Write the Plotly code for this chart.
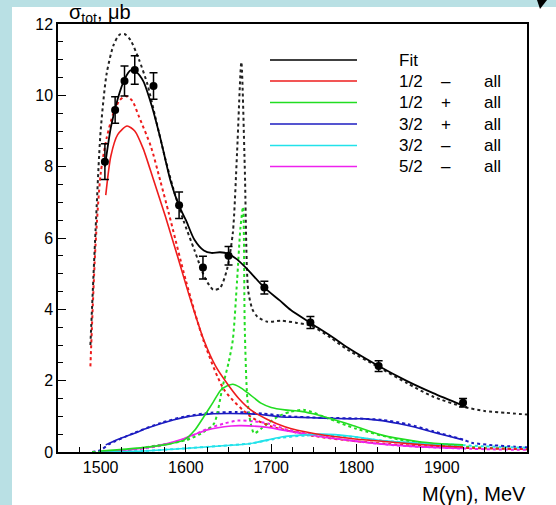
import plotly.graph_objects as go

# ---- data points ----
data_x = [1505, 1517, 1528, 1540, 1562, 1592, 1620, 1650, 1692, 1746, 1826, 1925]
data_y = [8.14, 9.59, 10.40, 10.71, 10.26, 6.92, 5.17, 5.50, 4.61, 3.63, 2.41, 1.38]
data_err = [0.5, 0.37, 0.42, 0.40, 0.37, 0.37, 0.32, 0.26, 0.18, 0.17, 0.15, 0.12]

# ---- Fit (solid black) ----
fit_x = [1505, 1512, 1520, 1528, 1535, 1542, 1550, 1560, 1570, 1582, 1592, 1600, 1610, 1621,
         1630, 1640, 1650, 1660, 1673, 1692, 1710, 1723, 1746, 1770, 1790, 1826, 1860, 1890, 1925]
fit_y = [8.0, 9.1, 9.9, 10.45, 10.7, 10.65, 10.4, 9.7, 8.8, 7.6, 6.9, 6.5, 5.95, 5.65,
         5.58, 5.6, 5.55, 5.4, 5.1, 4.61, 4.25, 3.98, 3.62, 3.25, 2.92, 2.41, 1.98, 1.65, 1.3]

# ---- alternative total (dotted black) ----
tot2_x = [1488, 1494, 1500, 1507, 1515, 1522, 1528, 1535, 1545, 1555, 1565, 1575, 1585, 1597,
          1610, 1622, 1632, 1640, 1648, 1655, 1660, 1665, 1669, 1673, 1678, 1684, 1696, 1712,
          1730, 1746, 1770, 1790, 1826, 1860, 1890, 1925, 1950, 1975, 2000]
tot2_y = [3.0, 6.2, 9.0, 10.6, 11.4, 11.7, 11.72, 11.55, 11.0, 10.3, 9.3, 8.3, 7.4, 6.5,
          5.66, 4.9, 4.55, 4.6, 5.1, 6.14, 8.4, 10.93, 8.0, 4.54, 4.0, 3.79, 3.65, 3.68,
          3.62, 3.55, 3.2, 2.86, 2.38, 1.92, 1.55, 1.27, 1.15, 1.1, 1.05]

# ---- partial waves, solid ----
red_x = [1506, 1512, 1520, 1531, 1540, 1550, 1562, 1576, 1590, 1605, 1621, 1635, 1649, 1662,
         1676, 1695, 1716, 1750, 1794, 1830, 1868, 1900, 1925]
red_y = [7.2, 8.3, 8.9, 9.14, 9.0, 8.5, 7.63, 6.6, 5.5, 4.3, 3.14, 2.4, 1.9, 1.5,
         1.18, 0.92, 0.71, 0.52, 0.38, 0.3, 0.22, 0.17, 0.14]

green_x = [1500, 1530, 1560, 1580, 1598, 1610, 1621, 1632, 1641, 1648, 1655, 1663, 1673, 1688,
           1700, 1716, 1735, 1755, 1775, 1794, 1829, 1870, 1900, 1925]
green_y = [0.03, 0.08, 0.15, 0.22, 0.34, 0.6, 0.99, 1.4, 1.74, 1.85, 1.9, 1.82, 1.65, 1.37,
           1.25, 1.18, 1.14, 1.04, 0.9, 0.76, 0.48, 0.3, 0.23, 0.2]

blue_x = [1506, 1520, 1539, 1555, 1571, 1585, 1598, 1614, 1629, 1650, 1676, 1700, 1712, 1735,
          1760, 1794, 1810, 1830, 1849, 1868, 1888, 1905, 1925]
blue_y = [0.2, 0.35, 0.52, 0.67, 0.8, 0.9, 0.97, 1.03, 1.07, 1.08, 1.07, 1.02, 0.98, 0.97,
          0.95, 0.93, 0.93, 0.88, 0.8, 0.7, 0.57, 0.46, 0.34]

cyan_x = [1500, 1550, 1598, 1640, 1676, 1712, 1740, 1760, 1794, 1829, 1870, 1925]
cyan_y = [0.0, 0.03, 0.1, 0.17, 0.24, 0.42, 0.48, 0.5, 0.44, 0.32, 0.25, 0.2]

mag_x = [1500, 1540, 1571, 1598, 1625, 1653, 1665, 1696, 1712, 1735, 1760, 1794, 1830, 1870, 1925]
mag_y = [0.0, 0.08, 0.2, 0.38, 0.62, 0.73, 0.74, 0.69, 0.62, 0.52, 0.42, 0.32, 0.22, 0.15, 0.1]

# ---- partial waves, dotted ----
redd_x = [1488, 1494, 1500, 1507, 1515, 1522, 1529, 1537, 1545, 1559, 1570, 1580, 1600, 1621,
          1645, 1676, 1700, 1750, 1800, 1850, 1900, 1950, 2000]
redd_y = [2.4, 5.8, 7.8, 8.8, 9.5, 9.85, 9.98, 9.85, 9.4, 8.56, 7.6, 6.69, 4.8, 3.1,
          1.74, 0.99, 0.72, 0.45, 0.3, 0.2, 0.14, 0.1, 0.08]

greend_x = [1490, 1530, 1570, 1600, 1620, 1633, 1643, 1650, 1655, 1660, 1664, 1667, 1669, 1672,
            1676, 1680, 1688, 1696, 1710, 1723, 1739, 1767, 1800, 1850, 1900, 1950, 2000]
greend_y = [0.0, 0.05, 0.2, 0.33, 0.55, 0.8, 1.83, 2.5, 3.14, 4.8, 6.3, 6.87, 3.5, 1.5,
            0.8, 0.52, 0.65, 0.8, 1.02, 1.13, 1.18, 0.94, 0.65, 0.35, 0.2, 0.12, 0.08]

blued_x = [1490, 1500, 1510, 1539, 1571, 1598, 1629, 1660, 1690, 1720, 1760, 1800, 1830, 1860,
           1890, 1910, 1925, 1935, 1960, 1986, 2000]
blued_y = [0.0, 0.05, 0.22, 0.53, 0.82, 0.99, 1.1, 1.12, 1.08, 1.0, 0.96, 0.94, 0.9, 0.78,
           0.58, 0.45, 0.35, 0.26, 0.19, 0.15, 0.13]

cyand_x = [1490, 1550, 1598, 1640, 1676, 1712, 1740, 1760, 1794, 1829, 1870, 1925, 1950, 2000]
cyand_y = [0.0, 0.03, 0.1, 0.17, 0.24, 0.4, 0.46, 0.48, 0.43, 0.32, 0.25, 0.19, 0.16, 0.12]

magd_x = [1490, 1540, 1571, 1598, 1625, 1645, 1661, 1680, 1696, 1720, 1760, 1800, 1850, 1900, 1950, 2000]
magd_y = [0.0, 0.07, 0.18, 0.36, 0.65, 0.8, 0.88, 0.86, 0.8, 0.62, 0.44, 0.3, 0.18, 0.12, 0.08, 0.06]

# ---- legend ----
legend_spin = ["1/2", "1/2", "3/2", "3/2", "5/2"]
legend_parity = ["\u2013", "+", "+", "\u2013", "\u2013"]
legend_set = ["all", "all", "all", "all", "all"]

x_ticks = [1500, 1600, 1700, 1800, 1900]
y_ticks = [0, 2, 4, 6, 8, 10, 12]

BLACK = "#000000"
RED = "#ee1c1c"
GREEN = "#22dd22"
BLUE = "#1c1cc0"
CYAN = "#22e2ea"
MAG = "#ee22ee"

W, H = 556, 505
L, R, T, B = 58, 29, 24, 53
PW, PH = W - L - R, H - T - B


def px2x(px):
    return (px - L) / PW


def px2y(py):
    return (H - B - py) / PH


fig = go.Figure()


def add_line(xs, ys, color, dotted=False, width=1.6):
    fig.add_trace(go.Scatter(
        x=xs, y=ys, mode="lines",
        line=dict(color=color, width=2 if dotted else width,
                  dash="dot" if dotted else "solid", shape="spline", smoothing=0.7),
        showlegend=False, hoverinfo="skip"))


# dotted curves
add_line(magd_x, magd_y, MAG, True)
add_line(cyand_x, cyand_y, CYAN, True)
add_line(blued_x, blued_y, BLUE, True)
add_line(greend_x, greend_y, GREEN, True)
add_line(redd_x, redd_y, RED, True)
add_line(tot2_x, tot2_y, "#222222", True)
# solid curves
add_line(mag_x, mag_y, MAG)
add_line(cyan_x, cyan_y, CYAN)
add_line(blue_x, blue_y, BLUE)
add_line(green_x, green_y, GREEN)
add_line(red_x, red_y, RED)
add_line(fit_x, fit_y, BLACK, width=1.8)

# data
fig.add_trace(go.Scatter(
    x=data_x, y=data_y, mode="markers",
    marker=dict(color="black", size=8),
    error_y=dict(type="data", array=data_err, visible=True, color="black",
                 thickness=1.5, width=4),
    showlegend=False, hoverinfo="skip"))

shapes = []
# white panel
shapes.append(dict(type="rect", xref="paper", yref="paper",
                   x0=px2x(12), x1=px2x(W + 10), y0=px2y(H + 10), y1=px2y(7),
                   fillcolor="white", line=dict(width=0), layer="below"))
# little black triangle at top right
tri = [(537, 0), (547, 0), (540, 9)]
path = "M {} {} L {} {} L {} {} Z".format(
    px2x(tri[0][0]), px2y(tri[0][1]), px2x(tri[1][0]), px2y(tri[1][1]),
    px2x(tri[2][0]), px2y(tri[2][1]))
shapes.append(dict(type="path", xref="paper", yref="paper", path=path,
                   fillcolor="black", line=dict(width=0), layer="above"))

annotations = []
leg_colors = [BLACK, RED, GREEN, BLUE, CYAN, MAG]
leg_rows = [60, 81, 102.5, 124, 145.5, 166.5]
for i, (c, ry) in enumerate(zip(leg_colors, leg_rows)):
    shapes.append(dict(type="line", xref="paper", yref="paper",
                       x0=px2x(270), x1=px2x(357), y0=px2y(ry), y1=px2y(ry),
                       line=dict(color=c, width=1.6), layer="above"))
annotations.append(dict(text="Fit", x=px2x(397), y=px2y(leg_rows[0]), xref="paper", yref="paper",
                        xanchor="left", yanchor="middle", showarrow=False,
                        font=dict(size=17, color="black")))
for i in range(5):
    ry = leg_rows[i + 1]
    annotations.append(dict(text=legend_spin[i], x=px2x(397), y=px2y(ry), xref="paper", yref="paper",
                            xanchor="left", yanchor="middle", showarrow=False,
                            font=dict(size=17, color="black")))
    annotations.append(dict(text=legend_parity[i], x=px2x(446), y=px2y(ry), xref="paper", yref="paper",
                            xanchor="center", yanchor="middle", showarrow=False,
                            font=dict(size=17, color="black")))
    annotations.append(dict(text=legend_set[i], x=px2x(482), y=px2y(ry), xref="paper", yref="paper",
                            xanchor="left", yanchor="middle", showarrow=False,
                            font=dict(size=17, color="black")))

# axis titles
annotations.append(dict(text="\u03c3<sub>tot</sub>, \u03bcb", x=px2x(67), y=px2y(13),
                        xref="paper", yref="paper", xanchor="left", yanchor="middle",
                        showarrow=False, font=dict(size=20, color="black")))
annotations.append(dict(text="M(\u03b3n), MeV", x=px2x(528), y=px2y(494),
                        xref="paper", yref="paper", xanchor="right", yanchor="middle",
                        showarrow=False, font=dict(size=20, color="black")))

fig.update_layout(
    width=W, height=H,
    margin=dict(l=L, r=R, t=T, b=B, pad=0),
    paper_bgcolor="#b9e0e4",
    plot_bgcolor="white",
    font=dict(family="Liberation Sans, Arial, sans-serif", size=16, color="black"),
    shapes=shapes,
    annotations=annotations,
    showlegend=False,
)
fig.update_xaxes(range=[1450, 2000], tickvals=x_ticks, ticks="inside", ticklen=8,
                 tickwidth=1, tickcolor="black", showline=True, linecolor="black",
                 linewidth=1.5, mirror=True, showgrid=False, zeroline=False,
                 tickfont=dict(size=16),
                 minor=dict(dtick=25, tick0=1450, ticks="inside", ticklen=5,
                            tickcolor="black", showgrid=False))
fig.update_yaxes(range=[0, 12], tickvals=y_ticks, ticks="inside", ticklen=8,
                 tickwidth=1, tickcolor="black", showline=True, linecolor="black",
                 linewidth=1.5, mirror=True, showgrid=False, zeroline=False,
                 tickfont=dict(size=16),
                 minor=dict(dtick=0.5, tick0=0, ticks="inside", ticklen=5,
                            tickcolor="black", showgrid=False))

fig.write_html("out.html")
